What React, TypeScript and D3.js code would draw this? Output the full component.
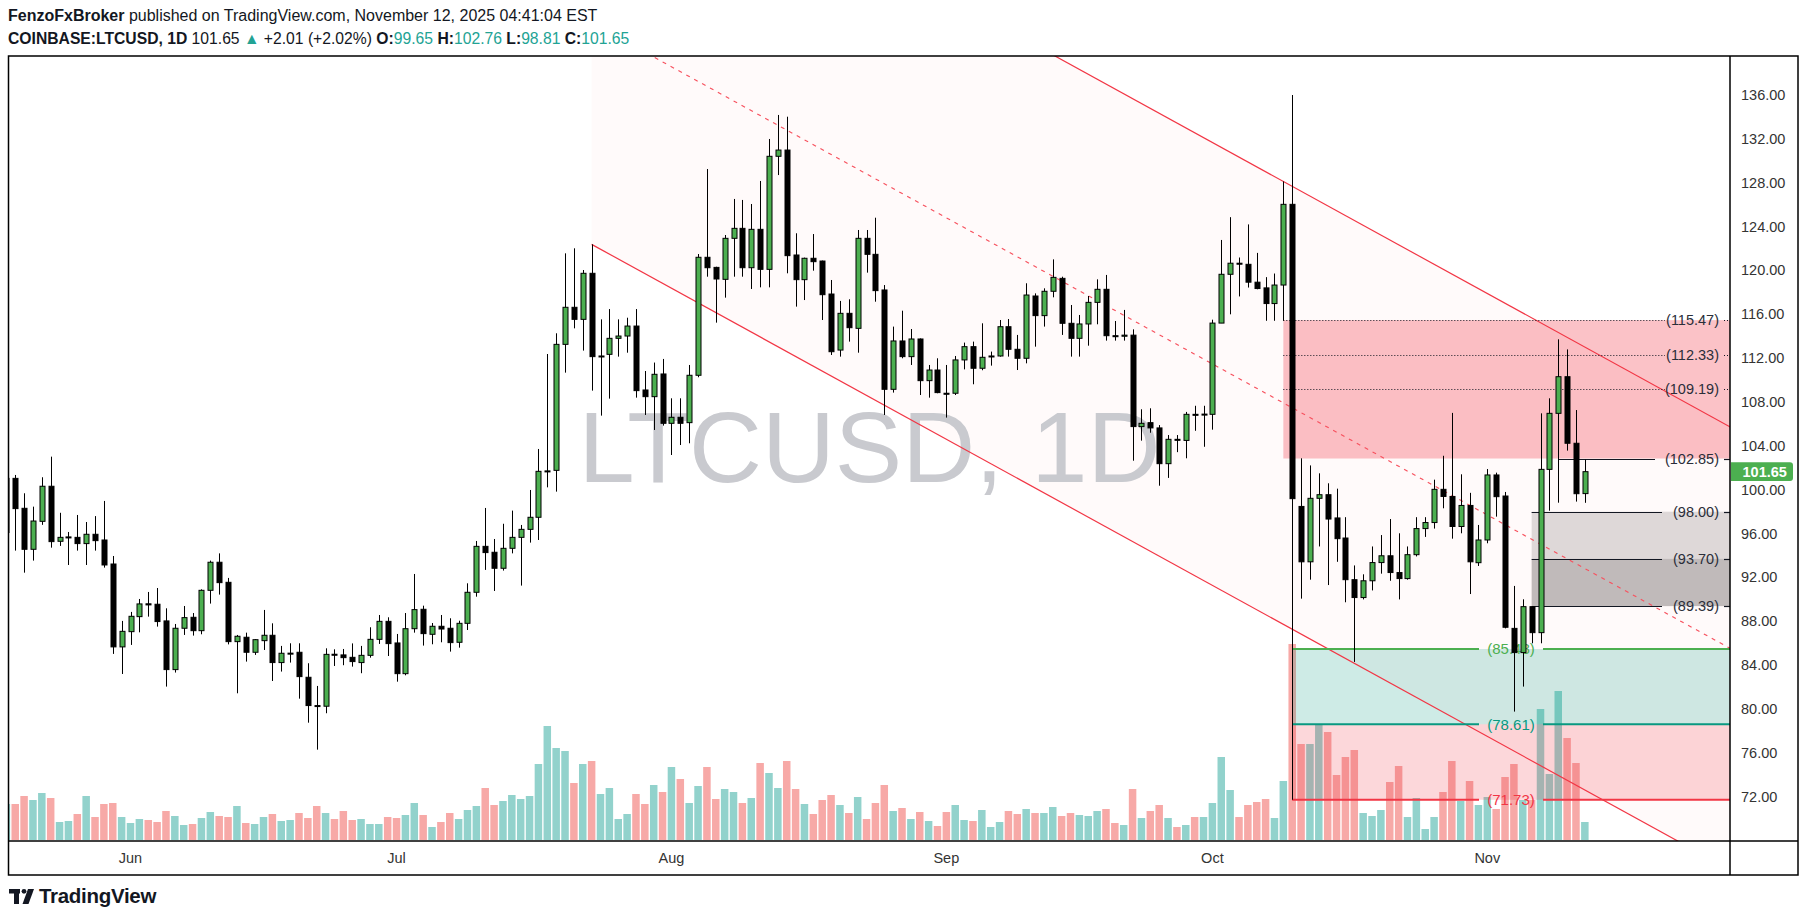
import React from "react";
import * as d3 from "d3";

// ---------- DATA ----------
const START_DATE = "2025-05-18";

const opens = [96.1,101.04,98.31,94.57,97.12,100.32,95.3,95.62,95.66,95.09,
95.94,95.42,93.23,85.67,87.06,88.43,89.6,89.56,88.04,83.6,
87.37,88.37,87.15,90.83,93.39,91.56,86.15,86.55,85.18,86.24,
86.73,84.24,85.05,85.18,82.9,80.32,80.26,85.0,84.94,84.72,
84.24,84.9,86.36,88.0,86.03,83.23,87.33,89.1,86.82,87.55,
87.37,86.09,87.82,90.65,94.84,94.3,92.84,94.66,95.66,96.39,
97.49,101.68,101.77,113.26,116.64,115.54,119.74,112.15,112.35,113.81,
114.02,114.93,109.1,108.49,110.56,106.06,106.61,106.12,110.44,121.2,
120.28,119.19,122.93,123.84,120.25,123.75,120.1,130.41,130.98,121.41,
119.16,121.11,120.86,117.85,112.74,116.09,114.72,122.93,121.47,118.22,
109.16,113.57,112.14,113.75,109.95,110.92,108.8,108.8,111.84,113.05,
111.08,112.17,112.2,114.87,112.81,111.99,117.67,115.88,118.1,119.28,
115.18,113.81,115.12,117.09,118.28,114.05,114.0,114.1,105.76,106.12,
105.64,102.38,104.6,104.5,106.88,106.85,106.88,115.2,119.65,120.66,
120.56,118.93,118.41,116.98,118.67,126.03,98.48,93.43,99.22,99.55,
97.43,95.6,91.8,90.17,91.7,93.36,93.98,92.45,91.9,94.08,
96.46,97.01,100.04,99.39,96.65,98.57,93.35,95.42,101.35,99.43,
87.36,85.15,89.34,86.97,101.86,106.97,110.31,104.24,99.65];

const highs = [101.5,101.35,99.68,98.46,101.14,103.02,97.9,96.15,97.7,97.06,
97.6,98.98,93.96,88.04,88.86,90.04,90.68,91.04,89.19,87.76,
89.4,88.76,90.92,93.54,94.2,91.96,86.76,86.97,86.39,89.04,
87.82,85.76,86.0,86.0,84.18,82.11,85.54,85.45,85.48,85.99,
85.76,87.46,88.58,88.37,86.85,88.76,92.32,89.43,87.85,88.58,
88.28,88.06,91.47,95.33,98.34,95.51,96.9,98.1,96.79,99.98,
103.72,112.38,114.27,121.56,122.02,120.04,122.38,115.54,116.48,115.54,
115.69,116.48,110.83,111.6,111.93,108.34,108.34,111.38,121.5,129.25,
120.34,123.23,126.52,126.43,126.06,128.16,131.99,134.18,134.02,123.39,
121.17,123.32,120.9,119.13,117.22,117.37,123.69,123.69,124.81,118.67,
114.88,116.33,114.66,113.8,111.38,111.99,111.38,112.2,113.42,113.51,
115.18,112.6,115.48,115.57,114.12,118.83,117.91,118.37,121.01,119.43,
116.85,115.94,117.67,119.19,119.59,115.39,116.4,114.63,107.34,107.43,
105.9,104.99,104.99,107.1,107.66,107.66,115.51,122.78,124.86,121.18,
124.2,121.6,119.39,119.72,128.12,136.0,102.87,102.22,101.5,100.59,
100.1,97.5,93.1,92.29,94.83,95.87,97.33,96.03,94.83,97.5,
97.5,100.92,103.1,107.01,101.41,99.72,96.79,101.89,101.56,99.8,
91.23,90.01,89.4,106.97,108.34,113.72,112.8,107.27,102.76];

const lows = [95.6,94.45,92.44,93.54,96.8,94.72,94.88,93.14,94.45,93.14,
94.45,92.9,85.03,83.2,85.85,87.0,88.43,87.52,82.05,83.33,
86.76,86.7,86.82,89.62,90.44,85.9,81.44,84.33,84.94,85.39,
82.56,83.42,84.24,80.95,78.76,76.3,79.62,83.93,84.0,83.87,
83.27,84.69,85.94,84.84,82.5,83.08,86.97,85.79,85.91,86.09,
85.24,85.6,87.21,90.25,92.69,90.77,92.63,94.2,91.26,95.18,
95.42,100.22,99.83,110.68,114.72,112.69,109.04,106.76,108.31,112.14,
112.5,108.4,106.82,105.45,105.85,103.17,104.08,104.24,110.26,119.43,
115.24,117.52,119.43,119.43,118.31,118.46,118.46,128.7,119.74,116.7,
117.3,119.98,115.48,112.29,112.14,113.51,112.5,119.8,117.15,106.82,
108.86,111.99,111.38,108.64,108.4,108.8,106.58,108.64,110.98,109.62,
110.9,111.32,112.14,112.14,110.92,111.53,113.05,114.88,117.55,114.12,
112.14,112.14,113.14,115.09,113.6,113.6,113.6,102.65,104.48,105.2,
100.37,101.08,103.43,102.87,105.38,103.92,105.48,115.2,116.0,117.63,
118.44,118.28,115.41,115.41,115.41,71.73,90.07,91.8,94.83,91.31,
93.43,89.74,84.3,90.0,90.82,92.35,91.7,90.0,91.8,93.92,
95.7,96.46,98.31,95.54,96.03,90.49,93.05,95.12,97.55,87.36,
79.77,82.05,86.0,86.0,98.09,98.82,103.57,98.92,98.81];

const closes = [101.04,98.28,94.57,97.15,100.32,95.27,95.66,95.7,95.09,95.94,
95.36,93.14,85.67,87.09,88.46,89.59,89.5,87.98,83.6,87.37,
88.34,87.15,90.83,93.39,91.53,86.15,86.64,85.18,86.33,86.73,
84.24,85.09,85.1,82.96,80.32,80.26,84.99,84.95,84.69,84.33,
84.9,86.36,88.0,85.97,83.23,87.33,89.07,86.88,87.55,87.3,
86.06,87.82,90.65,94.84,94.27,92.84,94.66,95.66,96.39,97.49,
101.68,101.72,113.26,116.64,115.54,119.74,112.14,112.2,113.81,114.02,
114.93,109.04,108.49,110.53,106.06,106.61,106.06,110.44,121.2,120.25,
119.22,122.93,123.84,120.25,123.75,120.1,130.41,130.98,121.35,119.16,
121.11,120.8,117.79,112.59,116.09,114.78,122.93,121.47,118.16,109.16,
113.57,112.14,113.75,109.95,110.92,108.86,108.74,111.84,113.05,111.08,
112.08,112.2,114.87,112.81,111.99,117.76,115.88,118.1,119.37,115.18,
113.81,115.12,117.09,118.28,114.05,114.0,114.1,105.76,106.06,105.64,
102.38,104.6,104.55,106.88,106.85,106.9,115.2,119.65,120.66,120.6,
118.93,118.35,116.98,118.67,126.03,99.19,93.43,99.22,99.55,97.33,
95.54,91.8,90.17,91.7,93.36,93.98,92.45,91.9,94.08,96.46,
97.01,100.04,99.39,96.65,98.57,93.43,95.42,101.35,99.37,87.46,
85.15,89.34,86.97,101.86,106.97,110.31,104.24,99.64,101.65];

const volumes = [36,36,44,40,47,42,18,19,26,44,
23,36,37,23,17,21,20,18,29,24,
15,16,22,28,24,23,34,17,16,23,
26,19,20,27,22,34,27,21,29,20,
21,16,16,23,22,25,37,25,13,18,
27,21,30,34,52,35,39,45,41,44,
76,114,92,89,57,76,79,46,52,21,
26,46,36,55,48,73,61,37,54,73,
41,51,48,37,42,77,67,52,79,51,
36,26,40,45,35,27,43,21,37,55,
29,32,21,28,19,14,28,35,20,19,
30,13,18,29,26,31,27,27,33,24,
27,25,24,29,31,17,15,51,22,29,
35,22,13,15,23,23,37,83,50,23,
35,38,41,22,59,196,96,96,116,108,
65,83,90,27,24,30,58,74,23,42,
11,23,48,79,39,59,35,43,31,63,
76,40,40,131,66,149,102,77,18];

const priceTicks = [72, 76, 80, 84, 88, 92, 96, 100, 104, 108, 112, 116, 120, 124, 128, 132, 136];
const monthTicks = ["2025-06-01", "2025-07-01", "2025-08-01", "2025-09-01", "2025-10-01", "2025-11-01"];
const monthLabels = ["Jun", "Jul", "Aug", "Sep", "Oct", "Nov"];

// Parallel channel (drawing): start / end anchor dates and prices
const channelDates = ["2025-07-23T00:00:00Z", "2025-11-28T12:00:00Z"];
const channelUpper = [162.77, 105.68];
const channelLower = [122.38, 65.29];

// Resistance zone (rectangle + levels)
const zoneStart = "2025-10-09";
const zoneLevels = [115.47, 112.33, 109.19];
const zoneBottom = 102.85;
const level10285Start = "2025-11-09";
// Grey support boxes
const greyStart = "2025-11-06";
const greyLevels = [98.0, 93.7, 89.39];
// Long position tool
const posStart = "2025-10-10";
const posTarget = 85.48;
const posEntry = 78.61;
const posStop = 71.73;

const LAST = 101.65;

// ---------- COMPONENT ----------
const FONT = "'Liberation Sans', Arial, sans-serif";

export default function App() {
  const W = 1806, H = 922;
  const PL = 9, PR = 1730, PT = 56, PB = 841;

  const x = d3.scaleUtc()
    .domain([new Date("2025-06-01T00:00:00Z"), new Date("2025-11-01T00:00:00Z")])
    .range([130.5, 1487.3]);
  const y = d3.scaleLinear().domain([72, 136]).range([796.8, 95]);
  const yv = d3.scaleLinear().domain([0, 196]).range([840, 644]);

  const start = new Date(START_DATE + "T00:00:00Z");
  const dates = opens.map((_, i) => d3.utcDay.offset(start, i));
  const dt = (s: string) => new Date(s.length <= 10 ? s + "T00:00:00Z" : s);

  const cx0 = x(dt(channelDates[0])), cx1 = x(dt(channelDates[1]));
  const channelPoly = [
    [cx0, y(channelUpper[0])], [cx1, y(channelUpper[1])],
    [cx1, y(channelLower[1])], [cx0, y(channelLower[0])],
  ].map(p => p.join(",")).join(" ");
  const mid0 = (channelUpper[0] + channelLower[0]) / 2;
  const mid1 = (channelUpper[1] + channelLower[1]) / 2;

  const zx = x(dt(zoneStart));
  const gx = x(dt(greyStart));
  const lx = x(dt(level10285Start));
  const px = x(dt(posStart));

  const labelColor = "#2a2e39";
  const teal = "#22a394";

  const posLines = [
    { v: posTarget, c: "#4caf50" },
    { v: posEntry, c: "#089981" },
    { v: posStop, c: "#f23645" },
  ];

  return (
    <svg width={W} height={H} style={{ position: "absolute", left: 0, top: 0, display: "block" }}
      fontFamily={FONT}>
      <defs>
        <clipPath id="plotclip">
          <rect x={PL} y={PT} width={PR - PL} height={PB - PT} />
        </clipPath>
      </defs>
      <rect x={0} y={0} width={W} height={H} fill="#ffffff" />

      {/* Header */}
      <text x={8} y={21} fontSize={16} fill="#131722">
        <tspan fontWeight={700}>FenzoFxBroker</tspan> published on TradingView.com, November 12, 2025 04:41:04 EST
      </text>
      <text x={8} y={44} fontSize={15.7} fill="#131722">
        <tspan fontWeight={700}>COINBASE:LTCUSD, 1D</tspan>
        <tspan> {LAST.toFixed(2)} </tspan>
        <tspan fill={teal}>▲</tspan>
        <tspan> +2.01 (+2.02%) </tspan>
        <tspan fontWeight={700}>O:</tspan><tspan fill={teal}>{opens[opens.length - 1].toFixed(2)}</tspan>
        <tspan fontWeight={700}> H:</tspan><tspan fill={teal}>{highs[highs.length - 1].toFixed(2)}</tspan>
        <tspan fontWeight={700}> L:</tspan><tspan fill={teal}>{lows[lows.length - 1].toFixed(2)}</tspan>
        <tspan fontWeight={700}> C:</tspan><tspan fill={teal}>{closes[closes.length - 1].toFixed(2)}</tspan>
      </text>

      {/* Plot area */}
      <g clipPath="url(#plotclip)">
        <polygon points={channelPoly} fill="#fffafa" />
        <text x={(PL + PR) / 2} y={482} textAnchor="middle" fontSize={101}
          fontFamily="'Liberation Sans', Arial, sans-serif" fill="#c9cacf">LTCUSD, 1D</text>

        {/* volume */}
        {volumes.map((v, i) => {
          const cx = x(dates[i]);
          const up = closes[i] >= opens[i];
          return <rect key={"v" + i} x={cx - 3.75} y={yv(v)} width={7.5} height={yv(0) - yv(v)}
            fill={up ? "#92d2cc" : "#f7a9a7"} />;
        })}

        {/* resistance zone */}
        <rect x={zx} y={y(zoneLevels[0])} width={PR - zx} height={y(zoneBottom) - y(zoneLevels[0])}
          fill="#f23645" fillOpacity={0.3} />
        {/* grey boxes */}
        <rect x={gx} y={y(greyLevels[0])} width={PR - gx} height={y(greyLevels[1]) - y(greyLevels[0])}
          fill="#8a8080" fillOpacity={0.28} />
        <rect x={gx} y={y(greyLevels[1])} width={PR - gx} height={y(greyLevels[2]) - y(greyLevels[1])}
          fill="#6e6666" fillOpacity={0.43} />
        {/* position tool */}
        <rect x={px} y={y(posTarget)} width={PR - px} height={y(posEntry) - y(posTarget)}
          fill="#089981" fillOpacity={0.2} />
        <rect x={px} y={y(posEntry)} width={PR - px} height={y(posStop) - y(posEntry)}
          fill="#f23645" fillOpacity={0.2} />

        {/* channel lines */}
        <line x1={cx0} y1={y(channelUpper[0])} x2={cx1} y2={y(channelUpper[1])} stroke="#f23645" strokeWidth={1.2} />
        <line x1={cx0} y1={y(channelLower[0])} x2={cx1} y2={y(channelLower[1])} stroke="#f23645" strokeWidth={1.2} />
        <line x1={cx0} y1={y(mid0)} x2={cx1} y2={y(mid1)} stroke="#f7525f" strokeWidth={1.2} strokeDasharray="4 5" />

        {/* zone levels */}
        {zoneLevels.map((v, i) => (
          <g key={"z" + i}>
            <line x1={zx} x2={1665} y1={Math.round(y(v)) + 0.5} y2={Math.round(y(v)) + 0.5}
              stroke="#131722" strokeWidth={1} strokeDasharray="1 2" />
            <line x1={1724} x2={1730} y1={Math.round(y(v)) + 0.5} y2={Math.round(y(v)) + 0.5}
              stroke="#131722" strokeWidth={1} strokeDasharray="1 2" />
            <text x={1719} y={y(v) + 5} textAnchor="end" fontSize={14.5} fill={labelColor}>({v.toFixed(2)})</text>
          </g>
        ))}
        <line x1={lx} x2={1655} y1={Math.round(y(zoneBottom)) + 0.5} y2={Math.round(y(zoneBottom)) + 0.5} stroke="#131722" strokeWidth={1.2} />
        <line x1={1724} x2={1730} y1={Math.round(y(zoneBottom)) + 0.5} y2={Math.round(y(zoneBottom)) + 0.5} stroke="#131722" strokeWidth={1.2} />
        <text x={1719} y={y(zoneBottom) + 5} textAnchor="end" fontSize={14.5} fill={labelColor}>({zoneBottom.toFixed(2)})</text>

        {greyLevels.map((v, i) => (
          <g key={"g" + i}>
            <line x1={gx} x2={1662} y1={Math.round(y(v)) + 0.5} y2={Math.round(y(v)) + 0.5} stroke="#131722" strokeWidth={1.2} />
            <line x1={1724} x2={1730} y1={Math.round(y(v)) + 0.5} y2={Math.round(y(v)) + 0.5} stroke="#131722" strokeWidth={1.2} />
            <text x={1719} y={y(v) + 5} textAnchor="end" fontSize={14.5} fill={labelColor}>({v.toFixed(2)})</text>
          </g>
        ))}

        {posLines.map((p, i) => (
          <g key={"p" + i}>
            <line x1={px} x2={1479} y1={y(p.v)} y2={y(p.v)} stroke={p.c} strokeWidth={2} />
            <line x1={1543} x2={PR} y1={y(p.v)} y2={y(p.v)} stroke={p.c} strokeWidth={2} />
            <text x={1511} y={y(p.v) + 5.5} textAnchor="middle" fontSize={15} fill={p.c}>({p.v.toFixed(2)})</text>
          </g>
        ))}

        {/* candles */}
        {opens.map((o, i) => {
          const cx = Math.round(x(dates[i])) + 0.5;
          const c = closes[i];
          const up = c >= o;
          const top = y(Math.max(o, c));
          const bot = y(Math.min(o, c));
          const h = Math.max(1, bot - top);
          return (
            <g key={"c" + i}>
              <line x1={cx} x2={cx} y1={y(highs[i])} y2={y(lows[i])} stroke="#000" strokeWidth={1} />
              <rect x={cx - 2.5} y={top} width={5} height={h}
                fill={up ? "#4caf50" : "#000"} stroke="#000" strokeWidth={1} />
            </g>
          );
        })}
      </g>

      {/* Frame */}
      <rect x={8.5} y={56} width={1789.5} height={819} fill="none" stroke="#000" strokeWidth={1.5} />
      <line x1={PR} x2={PR} y1={56} y2={875} stroke="#000" strokeWidth={1.5} />
      <line x1={8} x2={1798} y1={PB} y2={PB} stroke="#000" strokeWidth={1.5} />

      {/* Price axis */}
      {priceTicks.map(t => (
        <text key={"pt" + t} x={1741} y={y(t) + 5} fontSize={14.5} fill="#333">{t.toFixed(2)}</text>
      ))}
      <path d={`M${PR + 1},${y(LAST) - 9.3} H1790 a3,3 0 0 1 3,3 V${y(LAST) + 6.3} a3,3 0 0 1 -3,3 H${PR + 1} Z`}
        fill="#4caf50" />
      <text x={1742.5} y={y(LAST) + 5} fontSize={14.5} fill="#ffffff" fontWeight={700}>{LAST.toFixed(2)}</text>

      {/* Time axis */}
      {monthTicks.map((m, i) => (
        <text key={"m" + i} x={x(dt(m))} y={863} textAnchor="middle" fontSize={14.5} fill="#333">{monthLabels[i]}</text>
      ))}

      {/* Footer logo */}
      <g fill="#131722">
        <rect x={9} y={889} width={11} height={4.5} />
        <rect x={14} y={889} width={5} height={15} />
        <circle cx={24} cy={891.3} r={2.4} />
        <path d="M28,889 H34 L28.5,904 H22.5 Z" />
      </g>
      <text x={39} y={903} fontSize={20.5} fontWeight={700} fill="#131722" letterSpacing={-0.3}>TradingView</text>
    </svg>
  );
}
